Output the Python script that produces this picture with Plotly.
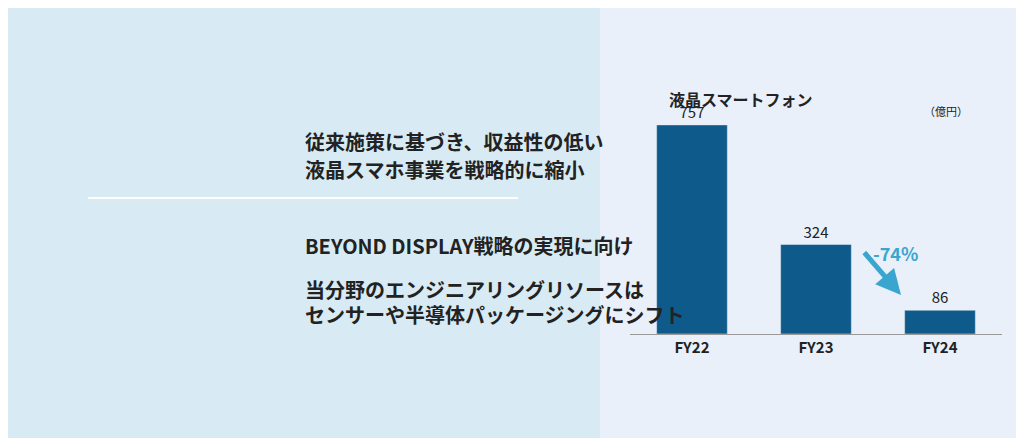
import plotly.graph_objects as go

years = ["FY22", "FY23", "FY24"]
sales = [757, 324, 86]
left_lines = ["従来施策に基づき、収益性の低い", "液晶スマホ事業を戦略的に縮小"]
right_lines = ["BEYOND DISPLAY戦略の実現に向け", "当分野のエンジニアリングリソースは", "センサーや半導体パッケージングにシフト"]

W, H = 1024, 438
font = "Noto Sans CJK JP"

fig = go.Figure(go.Bar(
    x=years, y=sales, marker_color="#0e5a8a", width=0.57,
    text=[str(v) for v in sales], textposition="outside",
    textfont=dict(size=15, color="#222", family=font), cliponaxis=False,
))

shapes = [
    dict(type="rect", xref="paper", yref="paper", x0=0, x1=592 / W, y0=0, y1=1,
         fillcolor="#d8eaf3", line_width=0, layer="below"),
    dict(type="rect", xref="paper", yref="paper", x0=596 / W, x1=1, y0=0, y1=1,
         fillcolor="#e9f0fa", line_width=0, layer="below"),
    dict(type="line", xref="paper", yref="paper", x0=80 / W, x1=510 / W,
         y0=1 - 190 / H, y1=1 - 190 / H, line=dict(color="white", width=2)),
]

ann = []
for t, y in zip(left_lines, [117, 161]):
    ann.append(dict(text="<b>%s</b>" % t, x=295 / W, y=1 - y / H, xref="paper", yref="paper",
                    showarrow=False, font=dict(size=20, color="#222", family=font)))
for t, y in zip(right_lines, [237, 281, 323]):
    ann.append(dict(text="<b>%s</b>" % t, x=295 / W, y=1 - y / H, xref="paper", yref="paper",
                    showarrow=False, font=dict(size=20, color="#222", family=font)))
ann.append(dict(text="<b>液晶スマートフォン</b>", x=807 / W, y=1 - 77 / H, xref="paper", yref="paper",
                showarrow=False, font=dict(size=16, color="#222", family=font)))
ann.append(dict(text="（億円）", x=962 / W, y=1 - 93 / H, xref="paper", yref="paper",
                showarrow=False, font=dict(size=11, color="#222", family=font)))
ann.append(dict(text="<b>-74%</b>", x=912 / W, y=1 - 245 / H, xref="paper", yref="paper",
                showarrow=False, font=dict(size=18, color="#3aa6cf", family=font)))
ann.append(dict(x=893 / W, y=1 - 287 / H, ax=-38, ay=-44, xref="paper", yref="paper",
                text="", showarrow=True, arrowhead=2,
                arrowsize=1, arrowwidth=5, arrowcolor="#3aa6cf"))

fig.update_layout(
    width=W, height=H, margin=dict(l=0, r=0, t=0, b=0),
    paper_bgcolor="#e9f0fa", plot_bgcolor="rgba(0,0,0,0)",
    showlegend=False, shapes=shapes, annotations=ann,
    xaxis=dict(domain=[622 / W, 994 / W], showline=True, linecolor="#999", linewidth=1,
               tickfont=dict(size=15, color="#222", family=font), ticks=""),
    yaxis=dict(domain=[1 - 326 / H, 1 - 60 / H], range=[0, 963], visible=False),
)
fig.update_xaxes(ticktext=["<b>%s</b>" % y for y in years], tickvals=years)
fig.write_html("out.html")
